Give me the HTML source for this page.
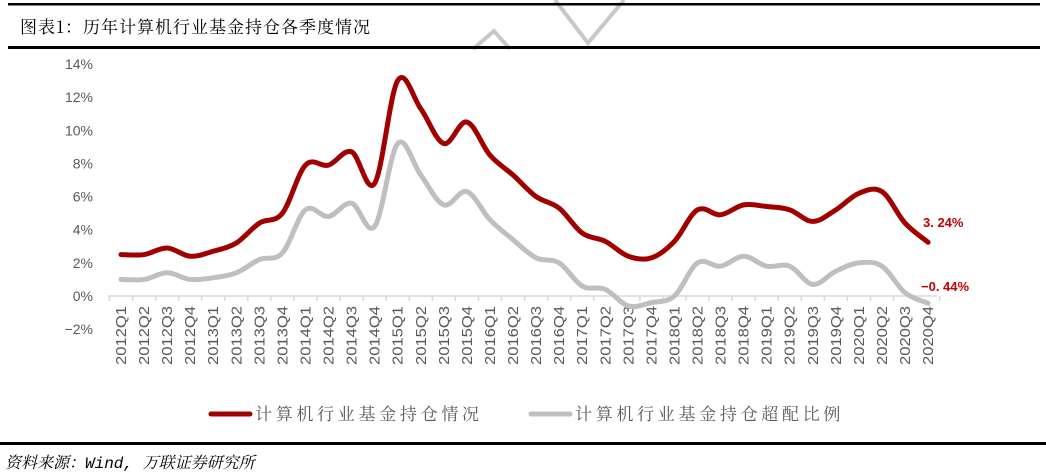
<!DOCTYPE html>
<html><head><meta charset="utf-8"><style>
html,body{margin:0;padding:0;background:#fff;}
svg{display:block}
</style></head><body>
<svg id="s" width="1046" height="474" xmlns="http://www.w3.org/2000/svg" font-family="Liberation Sans, 'Noto Sans CJK SC', sans-serif">
<rect width="1046" height="474" fill="#fff"/>
<polyline points="473,49 494,31 510,49" fill="none" stroke="#c8c8c8" stroke-width="4"/>
<polyline points="555,0 588,43 624,0" fill="none" stroke="#c8c8c8" stroke-width="4"/>
<rect x="8" y="3" width="1032" height="2.5" fill="#000"/>
<rect x="8" y="46" width="1032" height="3" fill="#000"/>
<text x="20" y="33" font-size="17" fill="#000" font-family="'Noto Serif CJK SC','Noto Sans CJK SC',sans-serif" letter-spacing="1">图表1：历年计算机行业基金持仓各季度情况</text>
<g id="yl" font-size="14" fill="#595959" text-anchor="end"></g>
<line x1="108" y1="296" x2="937" y2="296" stroke="#d9d9d9" stroke-width="1.5"/>
<g id="tk" stroke="#d9d9d9" stroke-width="1.5"></g>
<g id="xl" font-size="14.5" fill="#595959"></g>
<path id="g" fill="none" stroke="#bfbfbf" stroke-width="5" stroke-linecap="round"/>
<path id="r" fill="none" stroke="#a00000" stroke-width="5" stroke-linecap="round"/>
<text x="923" y="227" font-size="13" font-weight="bold" fill="#c00000">3. 24%</text>
<text x="921" y="291" font-size="13" font-weight="bold" fill="#c00000">−0. 44%</text>
<line x1="211" y1="414" x2="250" y2="414" stroke="#a00000" stroke-width="5" stroke-linecap="round"/>
<text x="255" y="420" font-size="17" fill="#595959" letter-spacing="3.7" font-family="'Noto Serif CJK SC',serif">计算机行业基金持仓情况</text>
<line x1="531" y1="414" x2="570" y2="414" stroke="#bfbfbf" stroke-width="5" stroke-linecap="round"/>
<text x="575" y="420" font-size="17" fill="#595959" letter-spacing="3.7" font-family="'Noto Serif CJK SC',serif">计算机行业基金持仓超配比例</text>
<rect x="0" y="442" width="1046" height="3" fill="#000"/>
<text x="5" y="468" font-size="16" font-style="italic" fill="#000" font-family="'Liberation Mono','Noto Serif CJK SC',monospace">资料来源：Wind, 万联证券研究所</text>
</svg>
<script>
var ns="http://www.w3.org/2000/svg";
function Y(v){return 296-v*16.57;}
function X(i){return 121+i*23.06;}
var yl=document.getElementById('yl');
for(var v=-2;v<=14;v+=2){var t=document.createElementNS(ns,'text');t.setAttribute('x',93);t.setAttribute('y',Y(v)+5);t.textContent=(v<0?'−':'')+Math.abs(v)+'%';yl.appendChild(t);}
var tk=document.getElementById('tk'),xl=document.getElementById('xl');
for(var i=0;i<=36;i++){var l=document.createElementNS(ns,'line');var x=X(i)-11.53;l.setAttribute('x1',x);l.setAttribute('x2',x);l.setAttribute('y1',296);l.setAttribute('y2',301);tk.appendChild(l);}
var k=0;
for(var yr=2012;yr<=2020;yr++)for(var q=1;q<=4;q++){var t=document.createElementNS(ns,'text');var x=X(k)+5;t.setAttribute('transform','translate('+x+',365) rotate(-90)');t.setAttribute('textLength','59');t.setAttribute('lengthAdjust','spacingAndGlyphs');t.textContent=yr+'Q'+q;xl.appendChild(t);k++;}
var R=[2.5,2.5,2.9,2.4,2.7,3.2,4.4,5.0,7.9,7.9,8.7,6.8,13.0,11.3,9.2,10.5,8.5,7.3,6.0,5.3,3.8,3.3,2.4,2.3,3.3,5.2,4.9,5.5,5.4,5.2,4.5,5.2,6.2,6.3,4.4,3.24];
var G=[1.0,1.0,1.4,1.0,1.1,1.4,2.2,2.6,5.2,4.8,5.6,4.2,9.2,7.3,5.5,6.3,4.6,3.4,2.3,2.0,0.6,0.4,-0.6,-0.4,0.0,2.0,1.8,2.4,1.8,1.8,0.7,1.5,2.0,1.8,0.2,-0.44];
function path(d){var p=d.map(function(v,i){return[X(i),Y(v)];});var s='M'+p[0][0]+','+p[0][1];
for(var i=0;i<p.length-1;i++){var p0=p[i-1]||p[i],p1=p[i],p2=p[i+1],p3=p[i+2]||p2;var t=0.17;
s+=' C'+(p1[0]+(p2[0]-p0[0])*t)+','+(p1[1]+(p2[1]-p0[1])*t)+' '+(p2[0]-(p3[0]-p1[0])*t)+','+(p2[1]-(p3[1]-p1[1])*t)+' '+p2[0]+','+p2[1];}return s;}
document.getElementById('r').setAttribute('d',path(R));
document.getElementById('g').setAttribute('d',path(G));
</script>
</body></html>
